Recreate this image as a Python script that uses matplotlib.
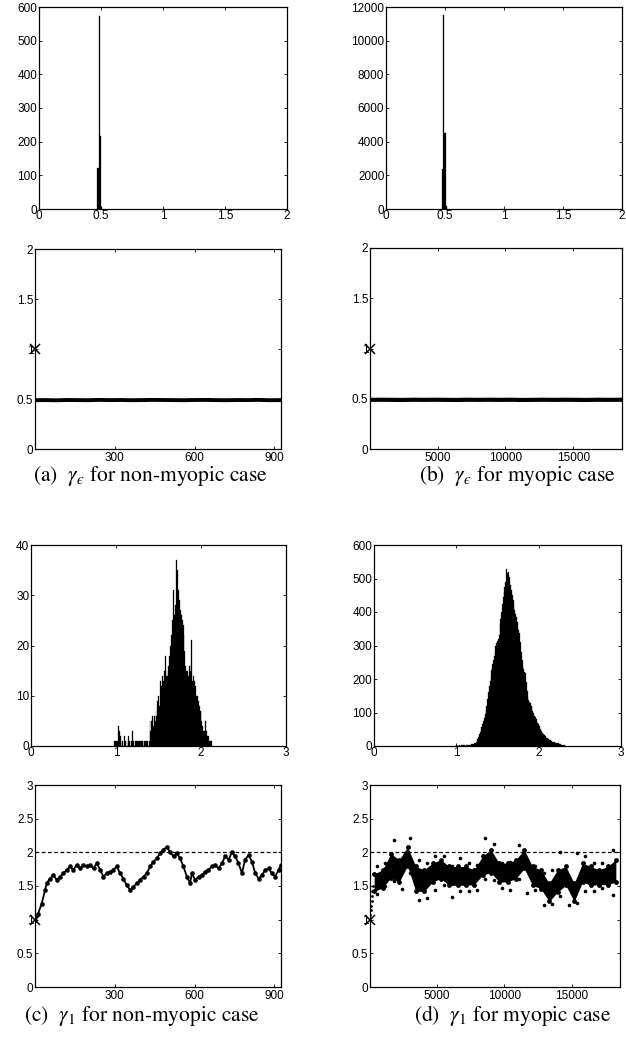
import numpy as np
import matplotlib
matplotlib.use("Agg")
import matplotlib.pyplot as plt
from matplotlib.ticker import FuncFormatter

plt.rcParams.update({
    "font.family": "Liberation Sans",
    "font.size": 8.5,
    "axes.linewidth": 0.9,
    "mathtext.fontset": "stix",
})

# ---------------- data ----------------
BIN_W = 0.01

# (a) gamma_eps histogram, non-myopic
a_hist_centers = [0.475, 0.485, 0.495, 0.505]
a_hist_counts = [121, 573, 218, 6]
# (b) gamma_eps histogram, myopic
b_hist_centers = [0.48, 0.49, 0.50, 0.51]
b_hist_counts = [2390, 11500, 4540, 160]

# (a)/(b) traces (flat band at ~0.49)
a_trace_iter = [0, 40, 80, 120, 160, 200, 240, 280, 320, 360, 400, 440,
                480, 520, 560, 600, 640, 680, 720, 760, 800, 840, 880, 925]
a_trace_vals = [0.488, 0.489, 0.487, 0.490, 0.489, 0.488, 0.491, 0.489,
                0.490, 0.488, 0.489, 0.491, 0.490, 0.489, 0.488, 0.490,
                0.491, 0.489, 0.488, 0.490, 0.489, 0.491, 0.488, 0.489]
b_trace_iter = [0, 800, 1600, 2400, 3200, 4000, 4800, 5600, 6400, 7200,
                8000, 8800, 9600, 10400, 11200, 12000, 12800, 13600,
                14400, 15200, 16000, 16800, 17600, 18600]
b_trace_vals = [0.489, 0.490, 0.489, 0.488, 0.490, 0.489, 0.490, 0.489,
                0.488, 0.490, 0.489, 0.490, 0.489, 0.490, 0.488, 0.489,
                0.490, 0.489, 0.490, 0.489, 0.488, 0.490, 0.489, 0.490]

# (c) gamma_1 histogram, non-myopic: counts for bins starting at 0.97
c_hist_first = 0.97
c_hist_counts = [0, 1, 1, 1, 1, 1, 4, 3, 2, 0, 1, 1, 0, 2, 1, 0, 1, 0, 2, 1,
                 0, 1, 3, 1, 1, 0, 1, 1, 1, 1, 1, 1, 1, 1, 1, 0, 1, 1, 1, 1,
                 1, 0, 1,
                 5, 3, 5, 6, 4, 6, 5, 7, 6, 9, 10, 8, 13, 11, 12, 14, 13, 15,
                 18, 14, 15, 14, 16, 18, 20, 22, 25, 24, 31, 26, 28, 37, 35,
                 30, 31, 29, 27, 26, 25, 24, 22, 19, 16, 15, 15, 14, 16, 16,
                 15, 21, 13, 14, 13, 11, 12, 10, 10, 9, 8, 7, 7, 5, 4, 3, 3,
                 5, 3, 2, 2, 2, 1, 1, 1]

# (d) gamma_1 histogram, myopic: counts for bins starting at 1.00
d_hist_first = 1.00
d_hist_counts = [2, 1, 2, 1, 2, 1, 2, 2, 1, 2, 2, 1, 2, 2, 3, 3, 4, 4, 5, 5,
                 5, 6, 8, 10, 13, 17, 22, 28, 35, 42, 50, 58, 66, 75, 85, 96,
                 108, 120, 140, 160, 180, 195, 210, 227, 245, 257, 270, 285,
                 300, 306, 312, 320, 330, 365, 378, 400, 425, 446, 460, 476,
                 490, 527, 515, 518, 500, 505, 480, 466, 450, 436, 420, 405,
                 395, 386, 370, 355, 345, 336, 310, 280, 257, 240, 230, 220,
                 217, 190, 165, 145, 137, 130, 128, 120, 117, 105, 98, 90, 87,
                 80, 74, 70, 67, 60, 52, 46, 42, 39, 37, 33, 30, 27, 25, 23,
                 21, 19, 18, 16, 14, 13, 12, 11, 10, 9, 9, 8, 8, 7, 6, 5, 4,
                 3, 2, 2, 1, 1]

# (c) gamma_1 trace, non-myopic
c_trace_iter = [0, 12, 25, 38, 44, 56, 69, 82, 94, 107, 119, 132, 144, 157,
                169, 182, 194, 207, 220, 232, 245, 257, 270, 282, 295, 307,
                320, 332, 345, 358, 370, 383, 395, 408, 420, 433, 445, 458,
                471, 483, 496, 508, 521, 533, 546, 558, 571, 583, 590, 602,
                615, 627, 640, 652, 665, 678, 690, 703, 715, 728, 740, 753,
                765, 778, 790, 803, 816, 828, 841, 853, 866, 878, 891, 903,
                916, 925]
c_trace_vals = [1.00, 1.09, 1.24, 1.44, 1.54, 1.61, 1.66, 1.59, 1.64, 1.69,
                1.74, 1.79, 1.74, 1.81, 1.76, 1.81, 1.79, 1.81, 1.76, 1.84,
                1.74, 1.64, 1.69, 1.71, 1.74, 1.79, 1.69, 1.61, 1.51, 1.44,
                1.49, 1.54, 1.59, 1.64, 1.69, 1.79, 1.86, 1.91, 1.99, 2.04,
                2.08, 2.00, 1.94, 1.99, 1.91, 1.79, 1.64, 1.54, 1.69, 1.59,
                1.64, 1.66, 1.71, 1.74, 1.79, 1.81, 1.76, 1.84, 1.94, 1.89,
                2.00, 1.94, 1.84, 1.69, 1.89, 1.96, 1.86, 1.69, 1.61, 1.66,
                1.74, 1.76, 1.69, 1.64, 1.74, 1.81]

# (d) gamma_1 trace, myopic: dense core band per block of iterations
d_core_iter = [310, 930, 1550, 2170, 2790, 3410, 4030, 4650, 5270, 5890,
               6510, 7130, 7750, 8370, 8990, 9610, 10230, 10850, 11470,
               12090, 12710, 13330, 13950, 14570, 15190, 15810, 16430,
               17050, 17670, 18290]
d_core_lo = [1.42, 1.47, 1.62, 1.56, 1.80, 1.42, 1.42, 1.56, 1.61, 1.51,
             1.51, 1.51, 1.52, 1.66, 1.70, 1.56, 1.56, 1.61, 1.76, 1.51,
             1.46, 1.27, 1.41, 1.51, 1.27, 1.56, 1.51, 1.52, 1.52, 1.56]
d_core_hi = [1.68, 1.74, 1.98, 1.89, 2.08, 1.79, 1.74, 1.84, 1.89, 1.79,
             1.79, 1.79, 1.74, 1.94, 2.04, 1.84, 1.84, 1.89, 2.04, 1.79,
             1.74, 1.54, 1.74, 1.79, 1.54, 1.84, 1.79, 1.74, 1.79, 1.89]
# scattered extremes per block
d_ext_iter = [530, 1150, 1770, 2390, 3010, 3630, 4250, 4870, 5490, 6110,
              6730, 7350, 7970, 8590, 9210, 9830, 10450, 11070, 11690,
              12310, 12930, 13550, 14170, 14790, 15410, 16030, 16650,
              17270, 18090]
d_ext_hi = [1.79, 1.84, 2.18, 1.89, 2.21, 1.89, 1.84, 1.94, 1.94, 1.79,
            1.91, 1.84, 1.81, 2.21, 2.13, 1.84, 1.86, 2.11, 1.84, 1.79,
            1.69, 1.74, 2.01, 1.61, 1.99, 1.94, 1.84, 1.84, 2.03]
d_ext_lo = [1.38, 1.50, 1.58, 1.45, 1.70, 1.29, 1.32, 1.44, 1.51, 1.34,
            1.42, 1.42, 1.44, 1.60, 1.59, 1.47, 1.44, 1.60, 1.39, 1.44,
            1.22, 1.24, 1.35, 1.22, 1.25, 1.42, 1.42, 1.47, 1.37]
d_start_iter = [0, 30, 60, 90, 120, 150, 180, 210]
d_start_vals = [1.00, 1.07, 1.14, 1.21, 1.28, 1.35, 1.42, 1.50]

N_NONMYOPIC = 925
N_MYOPIC = 18600
START_VAL = 1.0
TRUE_G1 = 2.0

# ---------------- layout ----------------
W, H = 626, 1048
fig = plt.figure(figsize=(W / 100, H / 100), dpi=100)


def px_axes(l, t, r, b):
    return fig.add_axes([l / W, 1 - b / H, (r - l) / W, (b - t) / H])


fmt = FuncFormatter(lambda v, p: f"{v:g}")


def style(ax, xpad):
    ax.tick_params(direction="in", top=True, right=True, length=2.5,
                   width=0.6, labelsize=8.5)
    ax.tick_params(axis="x", pad=xpad)
    ax.tick_params(axis="y", pad=1.2)
    ax.xaxis.set_major_formatter(fmt)
    ax.yaxis.set_major_formatter(fmt)


def hist_panel(rect, first_or_centers, counts, xmax, ymax, ystep):
    ax = px_axes(*rect)
    if np.isscalar(first_or_centers):
        centers = first_or_centers + BIN_W * np.arange(len(counts))
    else:
        centers = np.asarray(first_or_centers)
    ax.bar(centers, counts, width=BIN_W, color="black", edgecolor="black",
           linewidth=0.2)
    ax.set_xlim(0, xmax)
    ax.set_ylim(0, ymax)
    ax.set_xticks(np.arange(0, xmax + 1e-9, 0.5 if xmax == 2 else 1))
    ax.set_yticks(np.arange(0, ymax + 1e-9, ystep))
    style(ax, 0.5)
    return ax


def trace_panel(rect, n, ymax, xticks):
    ax = px_axes(*rect)
    ax.set_xlim(0, n)
    ax.set_ylim(0, ymax)
    ax.set_xticks(xticks)
    ax.set_yticks(np.arange(0, ymax + 1e-9, 0.5))
    style(ax, 2.5)
    ax.plot([0], [START_VAL], marker="x", color="black", ms=7.5, mew=1.1,
            clip_on=False, zorder=5)
    return ax


# top histograms
hist_panel((39, 7, 287, 209), a_hist_centers, a_hist_counts, 2, 600, 100)
hist_panel((386, 7, 622, 209), b_hist_centers, b_hist_counts, 2, 12000, 2000)

# gamma_eps traces
ax = trace_panel((35, 249, 281, 449), N_NONMYOPIC, 2, [300, 600, 900])
ax.plot(a_trace_iter, a_trace_vals, color="black", lw=2.8)
ax = trace_panel((370, 248, 622, 449), N_MYOPIC, 2, [5000, 10000, 15000])
ax.plot(b_trace_iter, b_trace_vals, color="black", lw=3.0)

# gamma_1 histograms
hist_panel((31, 545, 286, 746), c_hist_first, c_hist_counts, 3, 40, 10)
hist_panel((374, 545, 621, 746), d_hist_first, d_hist_counts, 3, 600, 100)

# gamma_1 traces
ax = trace_panel((35, 785, 281, 987), N_NONMYOPIC, 3, [300, 600, 900])
ax.axhline(TRUE_G1, color="black", lw=0.9, dashes=(3, 2))
ax.plot(c_trace_iter, c_trace_vals, color="black", lw=1.3)
ax.plot(c_trace_iter, c_trace_vals, "o", color="black", ms=3.3, mew=0)

ax = trace_panel((370, 785, 620, 987), N_MYOPIC, 3, [5000, 10000, 15000])
ax.axhline(TRUE_G1, color="black", lw=0.9, dashes=(3, 2))
ax.fill_between(d_core_iter, d_core_lo, d_core_hi, color="black", lw=0)
for vals in (d_core_lo, d_core_hi):
    ax.plot(d_core_iter, vals, "o", color="black", ms=3.5, mew=0)
ax.plot(d_ext_iter, d_ext_hi, "o", color="black", ms=2.6, mew=0)
ax.plot(d_ext_iter, d_ext_lo, "o", color="black", ms=2.6, mew=0)
ax.plot(d_start_iter, d_start_vals, "o", color="black", ms=2.0, mew=0)

# captions (lunate epsilon as in the original)
cap_kw = dict(fontsize=15.5, family="STIXGeneral", ha="center", va="baseline")
fig.text(150 / W, 1 - 481 / H, "(a)  $\\gamma_{\u03f5}$ for non-myopic case", **cap_kw)
fig.text(517 / W, 1 - 481 / H, "(b)  $\\gamma_{\u03f5}$ for myopic case", **cap_kw)
fig.text(142 / W, 1 - 1021 / H, r"(c)  $\gamma_1$ for non-myopic case", **cap_kw)
fig.text(513 / W, 1 - 1021 / H, r"(d)  $\gamma_1$ for myopic case", **cap_kw)

fig.savefig("out.png", dpi=100, facecolor="white")
